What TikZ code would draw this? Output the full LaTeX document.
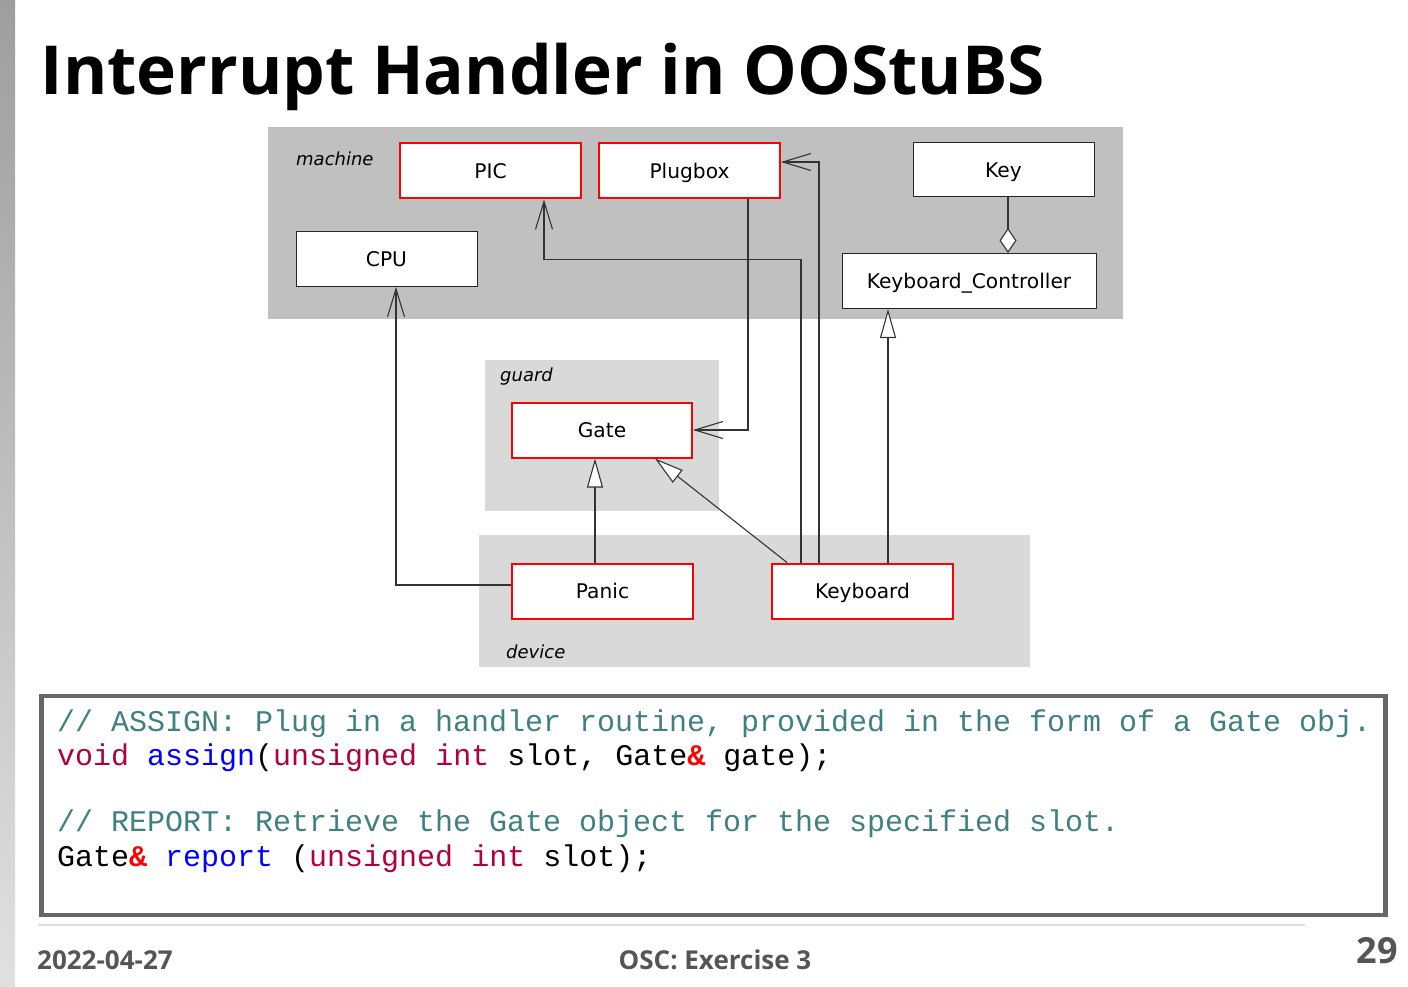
\documentclass[tikz,border=0pt]{standalone}
\usepackage{fontspec}
\setmainfont{DejaVu Sans}
\newfontfamily\titlefont{Open Sans}
\newfontfamily\codefont{Liberation Mono}
\usetikzlibrary{arrows.meta}

\definecolor{pkgdark}{HTML}{C0C0C0}
\definecolor{pkglight}{HTML}{D9D9D9}
\definecolor{linegray}{HTML}{333333}
\definecolor{cmt}{HTML}{408080}
\definecolor{kw}{HTML}{B00040}
\definecolor{fn}{HTML}{0000FF}
\definecolor{amp}{HTML}{FF0000}
\definecolor{footgray}{HTML}{555555}

\tikzset{
  classbox/.style={draw=black!85, line width=1pt, fill=white, minimum width=181pt,
    minimum height=55pt, inner sep=0pt, text height=15.5pt, text depth=0pt,
    font=\fontsize{20.2}{24}\selectfont},
  redbox/.style={classbox, draw=red, line width=2pt},
  pkglabel/.style={anchor=base west, inner sep=0pt, font=\fontsize{18}{22}\selectfont\itshape},
  assoc/.style={draw=linegray, line width=1.1pt, -{Straight Barb[length=28pt, width=17pt, line width=1.1pt]}},
  inherit/.style={draw=linegray, line width=1.1pt, -{Triangle[length=29pt, width=16pt, fill=white, line width=1.1pt]}},
  aggr/.style={draw=linegray, line width=1.1pt, -{Diamond[length=25pt, width=17pt, fill=white, line width=1.1pt]}},
  codeline/.style={anchor=base west, inner sep=0pt, font=\codefont\fontsize{30}{34}\selectfont},
  foot/.style={inner sep=0pt, text=footgray, font=\titlefont\bfseries\fontsize{26}{30}\selectfont}
}

\begin{document}
\begin{tikzpicture}[x=1pt, y=-1pt]
\useasboundingbox (0,0) rectangle (1408,987);
\fill[white] (0,0) rectangle (1408,987);

% side strip
\shade[top color=black!38, bottom color=black!12] (0,0) rectangle (15,987);

% title
\node[anchor=base west, inner sep=0pt, font=\titlefont\bfseries\fontsize{67.6}{72}\selectfont]
  (title) at (40.5,95) {Interrupt Handler in OOStuBS};

% packages
\fill[pkgdark] (268,127) rectangle (1123,319);
\fill[pkglight] (485,360) rectangle (719,511);
\fill[pkglight] (479,535) rectangle (1030,667);
\node[pkglabel] (lmachine) at (296,165.5) {machine};
\node[pkglabel] (lguard) at (500,381.5) {guard};
\node[pkglabel] (ldevice) at (506,658) {device};

% classes
\node[redbox] (PIC) at (490.5,171) {PIC};
\node[redbox] (Plugbox) at (689.5,171) {Plugbox};
\node[classbox, minimum height=54pt] (Key) at (1003.5,170) {Key};
\node[classbox] (CPU) at (386.5,259) {CPU};
\node[classbox, minimum width=254pt] (KC) at (969,281) {Keyboard\_Controller};
\node[redbox, minimum width=180pt] (Gate) at (602,430) {Gate};
\node[redbox] (Panic) at (602.5,591) {Panic};
\node[redbox] (Keyboard) at (862.5,591) {Keyboard};

% associations
\draw[assoc] ([xshift=58.5pt]Plugbox.south) |- (Gate.east);
\draw[assoc] ([xshift=-43.5pt]Keyboard.north) |- ([yshift=9pt]Plugbox.east);
\coordinate (picbend) at ([xshift=53.5pt, yshift=-60pt]PIC.south);
\draw[assoc] ([xshift=-61.5pt]Keyboard.north) |- (picbend) -- ([xshift=53.5pt]PIC.south);
\draw[assoc] ([yshift=6pt]Panic.west) -| ([xshift=9.5pt]CPU.south);

% generalisations
\draw[inherit] ([xshift=-7.5pt]Panic.north) -- ([xshift=-7pt]Gate.south);
\draw[inherit] ([xshift=-75.5pt]Keyboard.north) -- ([xshift=53pt]Gate.south);
\draw[inherit] ([xshift=25.5pt]Keyboard.north) -- ([xshift=-81pt]KC.south);

% aggregation
\draw[aggr] ([xshift=4.5pt]Key.south) -- ([xshift=39pt]KC.north);

% code listing
\draw[draw=black!60, line width=4.5pt, fill=white] (41.5,696) rectangle (1385.5,915);
\node[codeline, text=cmt] (c1) at (57,731) {// ASSIGN: Plug in a handler routine, provided in the form of a Gate obj.};
\node[codeline] (c2) at (57,765) {\textcolor{kw}{void} \textcolor{fn}{assign}(\textcolor{kw}{unsigned} \textcolor{kw}{int} slot, Gate\textcolor{amp}{\bfseries\&} gate);};
\node[codeline, text=cmt] (c4) at (57,831) {// REPORT: Retrieve the Gate object for the specified slot.};
\node[codeline] (c5) at (57,866) {Gate\textcolor{amp}{\bfseries\&} \textcolor{fn}{report} (\textcolor{kw}{unsigned} \textcolor{kw}{int} slot);};

% footer
\draw[black!13, line width=2pt] (38,925) -- (1305,925);
\node[foot, anchor=base west] (date) at (37,969) {2022-04-27};
\node[foot, anchor=base] (course) at (715,969) {OSC: Exercise 3};
\node[foot, anchor=base east, font=\titlefont\bfseries\fontsize{36}{40}\selectfont] (page) at (1398,963) {29};
\end{tikzpicture}
\end{document}
